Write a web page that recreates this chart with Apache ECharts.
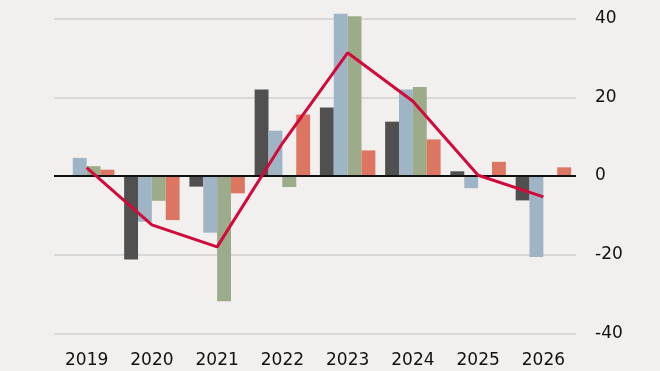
<!DOCTYPE html>
<html><head><meta charset="utf-8">
<script src="https://cdn.jsdelivr.net/npm/echarts@6/dist/echarts.min.js"></script>
<style>html,body{margin:0;padding:0;background:#f2f0ef;}#c{width:660px;height:371px;}</style>
</head><body><div id="c"></div>
<script>
var categories = ['2019','2020','2021','2022','2023','2024','2025','2026'];
var seriesDark  = [null, -21.2, -2.7, 22.0, 17.4, 13.8, 1.2, -6.2];
var seriesBlue  = [4.6, -11.6, -14.4, 11.5, 41.2, 22.0, -3.1, -20.6];
var seriesGreen = [2.5, -6.3, -31.8, -2.8, 40.6, 22.6, null, null];
var seriesSalmon= [1.6, -11.2, -4.4, 15.6, 6.5, 9.3, 3.6, 2.2];
var seriesLine  = [2.1, -12.4, -18.0, 8.3, 31.3, 19.0, 0.2, -5.3];
var yTicks = [-40, -20, 0, 20, 40];

var font = 'DejaVu Sans';
function bar(data, color){
  return {type:'bar', data:data, barGap:'0%', barCategoryGap:'15%', clip:false,
    itemStyle:{color:color}, silent:true, animation:false};
}
var chart = echarts.init(document.getElementById('c'));
var s1 = bar(seriesDark, '#505050');
s1.markLine = {silent:true, symbol:'none', label:{show:false},
  lineStyle:{color:'#111', width:2, type:'solid'}, data:[{yAxis:0}], animation:false};
chart.setOption({
  backgroundColor:'#f2f0ef',
  animation:false,
  grid:{left:54, right:84, top:18.5, bottom:37.5},
  xAxis:{type:'category', data:categories, boundaryGap:true,
    axisLine:{show:false, onZero:false}, axisTick:{show:false},
    axisLabel:{fontFamily:font, fontSize:17, color:'#111', margin:19}},
  yAxis:{type:'value', position:'right', min:yTicks[0], max:yTicks[yTicks.length-1], interval:20,
    axisLine:{show:false}, axisTick:{show:false},
    splitLine:{lineStyle:{color:'#d0d0d0', width:1.5}},
    axisLabel:{fontFamily:font, fontSize:17, color:'#111', margin:19, align:'left'}},
  series:[
    s1,
    bar(seriesBlue, '#9fb5c5'),
    bar(seriesGreen, '#9cab89'),
    bar(seriesSalmon, '#dc7562'),
    {type:'line', data:seriesLine, symbol:'none', z:10, clip:false,
      lineStyle:{color:'#d2093a', width:3}, silent:true}
  ]
});
</script></body></html>
